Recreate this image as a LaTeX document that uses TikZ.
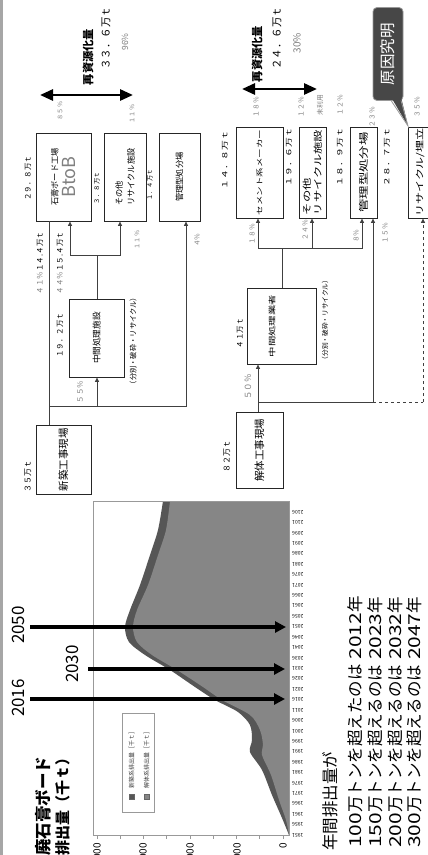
\documentclass[tikz,border=0pt]{standalone}
\usepackage{fontspec}
\setmainfont{Noto Sans CJK JP}
\newfontfamily\jpw{Noto Sans CJK JP}[FakeStretch=1.4]
\newfontfamily\digw{Noto Sans CJK JP}[FakeStretch=1.27]
\usetikzlibrary{arrows.meta}
\definecolor{pctgray}{HTML}{808080}
\definecolor{areadark}{HTML}{565656}
\definecolor{areamid}{HTML}{868686}
\definecolor{framegray}{HTML}{999999}
\definecolor{callfill}{HTML}{474747}
\newcommand\fsz[1]{\fontsize{#1}{#1}\selectfont}

\begin{document}
\begin{tikzpicture}[x=1pt,y=-1pt,
  lbl/.style={rotate=90,inner sep=0pt},
  pct/.style={lbl,text=pctgray},
  box/.style={lbl,draw=black!85,line width=0.8pt},
  line/.style={draw=black!75,line width=0.7pt},
  arrow/.style={line,arrows={-Triangle[length=4.5pt,width=4pt]}},
  twoway/.style={arrows={Triangle[length=13pt,width=11pt]-Triangle[length=13pt,width=11pt]},line width=2.7pt},
  yeararrow/.style={arrows={-Triangle[length=11pt,width=11pt]},line width=3.3pt}
]
\useasboundingbox (0,0) rectangle (428,855);
\clip (0,0) rectangle (428,855);
\fill[white] (0,0) rectangle (428,855);
\fill[black!35] (0,0) rectangle (3,855);

% chart
\fill[areadark] plot[smooth] coordinates {(163,501) (158,530) (150,555) (140,585) (130,610) (125,627) (129,642) (145,655) (170,670) (195,687) (215,700) (238,712) (250,725) (252,740) (250,752) (262,770) (272,795) (282,818) (289,835)} -- (289,501) -- cycle;
\fill[areamid] plot[smooth] coordinates {(170,501) (166,530) (158,555) (148,585) (137,610) (133,627) (137,642) (152,655) (177,670) (203,687) (222,700) (250,715) (260,730) (263,745) (262,755) (271,775) (279,800) (286,820) (289,835)} -- (289,501) -- cycle;
\draw[framegray,line width=0.6pt] (93,501) rectangle (289,835);
\foreach \x in {0,...,8}
  \draw[framegray,line width=0.6pt] ({283-23.25*\x},835) -- ++(0,4);
\foreach \v/\x in {0/283,1000/237,2000/190,3000/143,4000/97}
  \node[lbl,anchor=east,font=\fsz{10}] (val\v) at (\x,843) {\v};
\foreach \yr in {1951,1956,...,2106}{
  \pgfmathsetmacro\yy{835-(\yr-1951)*2.084}
  \node[rotate=180,inner sep=0pt,anchor=east,font=\fsz{5}] (yr\yr) at (292,\yy) {\yr};
}
\draw[framegray,fill=white] (122,713) rectangle (154,812);
\filldraw[fill=areadark,draw=black!60,line width=0.4pt] (129,794) rectangle (134,799);
\filldraw[fill=areamid,draw=black!60,line width=0.4pt] (144,794) rectangle (149,799);
\node[lbl,anchor=west,font=\fsz{6},text=black!75] (leg1) at (131.5,789) {新築系排出量［千ｔ］};
\node[lbl,anchor=west,font=\fsz{6},text=black!75] (leg2) at (146.5,789) {解体系排出量［千ｔ］};
\node[lbl,anchor=west,font=\bfseries\fsz{16.5}] (title1) at (43,856) {廃石膏ボード};
\node[lbl,anchor=west,font=\bfseries\fsz{15}] (title2) at (63,856) {排出量（千ｔ）};

% year markers
\node[lbl,font=\fsz{17}] (y2050) at (18,625) {2050};
\node[lbl,font=\fsz{17}] (y2030) at (72,664) {2030};
\node[lbl,font=\fsz{17}] (y2016) at (18,698) {2016};
\coordinate (a2050) at (30,627);  \coordinate (b2050) at (286,627);
\coordinate (a2030) at (88,669);  \coordinate (b2030) at (285,669);
\coordinate (a2016) at (30,699);  \coordinate (b2016) at (285,699);
\draw[yeararrow] (a2050) -- (b2050);
\draw[yeararrow] (a2030) -- (b2030);
\draw[yeararrow] (a2016) -- (b2016);

% notes
\node[lbl,anchor=west,font=\fsz{16.5}] (nenkan) at (330,851) {年間排出量が};
\node[lbl,anchor=west,font=\fsz{16.5}] (t100) at (355,848) {{\digw 100}万トンを超えたのは\hspace{5pt}{\digw 2012}年};
\node[lbl,anchor=west,font=\fsz{16.5}] (t150) at (375,848) {{\digw 150}万トンを超えるのは\hspace{5pt}{\digw 2023}年};
\node[lbl,anchor=west,font=\fsz{16.5}] (t200) at (395,848) {{\digw 200}万トンを超えるのは\hspace{5pt}{\digw 2032}年};
\node[lbl,anchor=west,font=\fsz{16.5}] (t300) at (414,848) {{\digw 300}万トンを超えるのは\hspace{5pt}{\digw 2047}年};

% new construction flow
\node[box,minimum width=88,minimum height=55,align=center,font=\fsz{8.2}] (koujo) at (63.5,177) {石膏ボード工場\\[3pt]{\fsz{18}\color{pctgray}BtoB}};
\node[box,minimum width=88,minimum height=42,align=left,font=\fontsize{8.2}{12}\selectfont] (sonota1) at (125,177) {その他\\リサイクル施設};
\node[box,minimum width=88,minimum height=41,font=\fsz{8.3}] (kanri1) at (179.5,177) {管理型処分場};
\node[box,minimum width=78,minimum height=55,font=\fsz{8.6}] (chukan1) at (96.5,338) {中間処理施設};
\node[box,minimum width=69,minimum height=55,font=\fsz{10.5}] (shinchiku) at (63.5,459.5) {新築工事現場};

\node[lbl,font=\fsz{7.5}] (q298) at (28,178) {２９．８万ｔ};
\node[lbl,font=\fsz{6.4}] (q38) at (97,188) {３．８万ｔ};
\node[lbl,font=\fsz{6.2}] (q14) at (150,185) {１．４万ｔ};
\node[pct,font=\fsz{6.2}] (p85) at (60,111) {８５％};
\node[pct,font=\fsz{6.2}] (p11a) at (132,114) {１１％};
\node[lbl,font=\bfseries\fsz{11.3}] (saishigen1) at (88,57) {再資源化量};
\node[lbl,font=\fsz{10.5}] (q336) at (106,38) {３３．６万ｔ};
\node[pct,font=\fsz{8.5}] (p96) at (125,42) {96\%};
\coordinate (rs1a) at (40,95);
\coordinate (rs1b) at (133,95);
\draw[twoway] (rs1a) -- (rs1b);

\node[lbl,font=\fsz{7.5}] (q192) at (60,335) {１９．２万ｔ};
\node[lbl,font=\fsz{7.3}] (note1) at (133,341) {（分別・破砕・リサイクル）};
\node[pct,font=\fsz{7.5}] (p55) at (80,392) {５５％};
\node[lbl,font=\fsz{8}] (q35) at (28,476) {３５万ｔ};
\node[lbl,font=\fsz{7.5}] (p41) at (40,263) {\textcolor{pctgray}{４１％}１４.４万ｔ};
\node[lbl,font=\fsz{7.5}] (p44) at (60,263) {\textcolor{pctgray}{４４％}１５.４万ｔ};
\node[pct,font=\fsz{6.2}] (p11b) at (137,240) {１１％};
\node[pct,font=\fsz{6.8}] (p4) at (197,240) {４％};

\coordinate (j1) at (49,406);
\coordinate (j2) at (97,406);
\coordinate (j3) at (97,255);
\draw[line] (j1 |- shinchiku.east) -- (j1 |- koujo.west);
\draw[arrow] (j1) -| (186,0 |- kanri1.west);
\draw[arrow] (j2) -- (j2 |- chukan1.west);
\draw[line] (j3 |- chukan1.east) -- (j3);
\draw[arrow] (j3) -| (70,0 |- koujo.west);
\draw[arrow] (j3) -| (120,0 |- sonota1.west);

% demolition flow
\node[lbl,font=\bfseries\fsz{11.3}] (saishigen2) at (257,54) {再資源化量};
\node[lbl,font=\fsz{10.5}] (q246) at (277,38) {２４．６万ｔ};
\node[pct,font=\fsz{10}] (p30) at (297,43) {30\%};
\coordinate (rs2a) at (242,89);
\coordinate (rs2b) at (317,89);
\draw[twoway] (rs2a) -- (rs2b);

\node[box,minimum width=91,minimum height=47,font={\jpw\fsz{6.8}}] (cement) at (259.5,172.5) {セメント系メーカー};
\node[box,minimum width=91,minimum height=27,align=left,font={\jpw\fontsize{8.8}{11.5}\selectfont}] (sonota2) at (312.5,172.5) {その他\\リサイクル施設};
\node[box,minimum width=91,minimum height=27,font={\jpw\fsz{9.6}}] (kanri2) at (363.5,172.5) {管理型処分場};
\node[box,minimum width=91,minimum height=24,font={\jpw\fsz{8.6}}] (umetate) at (420,172.5) {リサイクル/埋立};
\node[box,minimum width=76,minimum height=69] (chukan2) at (281.5,326) {};
\node[lbl,font={\jpw\fsz{7.4}}] (chukan2t) at (272,326) {中間処理業者};
\node[box,minimum width=76,minimum height=47,font=\fsz{10.5}] (kaitai) at (259.5,450) {解体工事現場};

\node[lbl,font={\jpw\fsz{7}}] (q148) at (225,160) {１４．８万ｔ};
\node[lbl,font={\jpw\fsz{7}}] (q196) at (289,157) {１９．６万ｔ};
\node[lbl,font={\jpw\fsz{7}}] (q189) at (340,157) {１８．９万ｔ};
\node[lbl,font={\jpw\fsz{7}}] (q287) at (387,157) {２８．７万ｔ};
\node[pct,font=\fsz{6.8}] (p18a) at (256,107) {１８％};
\node[pct,font=\fsz{6.8}] (p12a) at (301,107) {１２％};
\node[pct,font=\fsz{6.8}] (miriyo) at (320,105) {未利用};
\node[pct,font=\fsz{6.8}] (p12b) at (340,105) {１２％};
\node[pct,font=\fsz{6.8}] (p23) at (372,117) {２３％};
\node[pct,font=\fsz{6.8}] (p35) at (417,107) {３５％};
\node[pct,font=\fsz{6.8}] (p18b) at (252,234) {１８％};
\node[pct,font=\fsz{6.8}] (p24) at (305,230) {２４％};
\node[pct,font=\fsz{6.8}] (p8) at (356,236) {８％};
\node[pct,font=\fsz{6.8}] (p15) at (385,233) {１５％};
\node[lbl,font=\fsz{7.5}] (q41) at (240,333) {４１万ｔ};
\node[lbl,font=\fsz{6.7}] (note2) at (325,320) {（分別・破砕・リサイクル）};
\node[pct,font=\fsz{8.5}] (p50) at (248,387) {５０％};
\node[lbl,font=\fsz{8}] (q82) at (227,456) {８２万ｔ};

\coordinate (k1) at (258,402);
\coordinate (k2) at (373,402);
\coordinate (k3) at (423,402);
\coordinate (k4) at (282,248);
\draw[line] (k1 |- kaitai.east) -- (k1);
\draw[arrow] (k1) -- (k1 |- chukan2.west);
\draw[line] (k1) -- (k2);
\draw[arrow] (k2) -- (k2 |- kanri2.west);
\draw[line,dashed] (k2) -- (k3);
\draw[arrow,dashed] (k3) -- (k3 |- umetate.west);
\draw[line] (k4 |- chukan2.east) -- (k4);
\draw[arrow] (k4) -| (258,0 |- cement.west);
\draw[arrow] (k4) -| (312,0 |- sonota2.west);
\draw[arrow] (k4) -| (362,0 |- kanri2.west);

% callout
\node[lbl,minimum width=93,minimum height=30,rounded corners=4pt,fill=callfill,draw=black!40,line width=0.8pt,text=white,font=\fsz{15.5}] (genin) at (388,54) {原因究明};
\coordinate (genintip) at (408,126);
\fill[callfill] (391,97) -- (genintip) -- (401,97) -- cycle;
\draw[black!40,line width=0.8pt] (391,100.4) -- (genintip) -- (401,100.4);
\end{tikzpicture}
\end{document}
